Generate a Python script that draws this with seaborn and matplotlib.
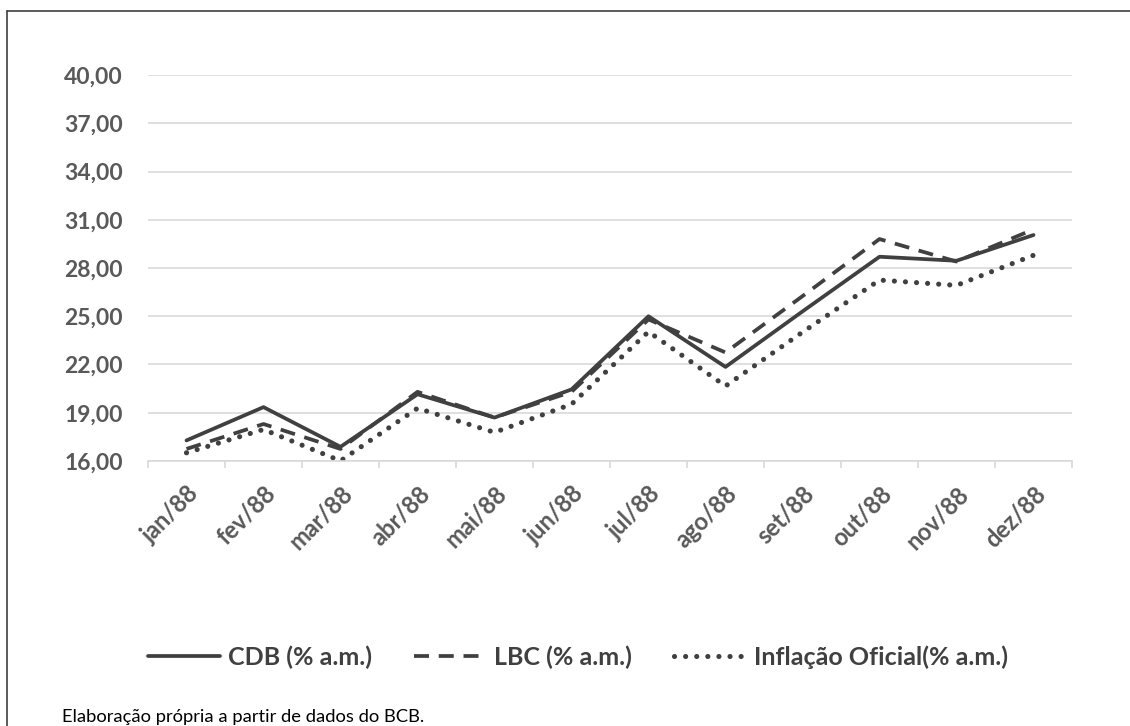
import matplotlib
matplotlib.use("Agg")
import matplotlib.pyplot as plt
from matplotlib.lines import Line2D
from matplotlib.ticker import FixedLocator
import seaborn as sns
import pandas as pd

# Monthly rates, 1988 (% a.m.)
meses = ["jan/88", "fev/88", "mar/88", "abr/88", "mai/88", "jun/88",
         "jul/88", "ago/88", "set/88", "out/88", "nov/88", "dez/88"]
cdb = [17.28, 19.35, 16.88, 20.15, 18.70, 20.45, 25.00, 21.85, 25.30, 28.70, 28.45, 30.05]
lbc = [16.75, 18.30, 16.75, 20.30, 18.70, 20.30, 24.80, 22.75, 26.25, 29.80, 28.40, 30.40]
inflacao = [16.51, 17.96, 16.01, 19.28, 17.78, 19.53, 24.04, 20.66, 24.01, 27.25, 26.92, 28.79]

series_nomes = ["CDB (% a.m.)", "LBC (% a.m.)", "Inflação Oficial(% a.m.)"]
y_ticks = [16, 19, 22, 25, 28, 31, 34, 37, 40]
fonte = "Elaboração própria a partir de dados do BCB."

sns.set_theme(style="white")
plt.rcParams["font.family"] = ["Lato", "DejaVu Sans"]

W, H = 1130, 726
fig = plt.figure(figsize=(W / 100, H / 100), dpi=100)
ax = fig.add_axes([148 / W, 1 - 461 / H, (1072 - 148) / W, (461 - 75) / H])

df = pd.DataFrame({"mes": meses, series_nomes[0]: cdb,
                   series_nomes[1]: lbc, series_nomes[2]: inflacao})

cor = "#404040"
sns.lineplot(data=df, x="mes", y=series_nomes[0], ax=ax, color=cor,
             linewidth=2.7, label=series_nomes[0], legend=False)
sns.lineplot(data=df, x="mes", y=series_nomes[1], ax=ax, color=cor,
             linewidth=2.7, linestyle=(0, (4.0, 2.6)), label=series_nomes[1],
             legend=False)
sns.lineplot(data=df, x="mes", y=series_nomes[2], ax=ax, color=cor,
             linewidth=3.7, linestyle=(0, (0.01, 2.15)), dash_capstyle="round",
             label=series_nomes[2], legend=False)

ax.set_xlim(-0.5, len(meses) - 0.5)
ax.set_ylim(16, 40)
ax.set_yticks(y_ticks)
ax.set_yticklabels([f"{v:.2f}".replace(".", ",") for v in y_ticks],
                   fontsize=16.5, fontweight="bold", color="#595959")
ax.tick_params(axis="y", length=0, pad=18)

ax.set_xticks(range(len(meses)))
ax.set_xticklabels(meses, rotation=45, ha="right", rotation_mode="anchor",
                   fontsize=17, fontweight="bold", color="#595959")
ax.tick_params(axis="x", which="major", length=0, pad=15)
ax.xaxis.set_minor_locator(FixedLocator([i - 0.5 for i in range(len(meses) + 1)]))
ax.tick_params(axis="x", which="minor", bottom=True, length=5, width=1.2,
               color="#d9d9d9")

ax.grid(axis="y", color="#d9d9d9", linewidth=1.2)
ax.set_axisbelow(True)
for s in ["left", "right", "top"]:
    ax.spines[s].set_visible(False)
ax.spines["bottom"].set_color("#d9d9d9")
ax.spines["bottom"].set_linewidth(1.2)
ax.set_xlabel("")
ax.set_ylabel("")

handles, labels = ax.get_legend_handles_labels()
leg = fig.legend(handles, labels, ncol=3, loc="center",
                 bbox_to_anchor=(578 / W, 1 - 657 / H), frameon=False,
                 handlelength=2.9, handletextpad=0.3, columnspacing=1.7,
                 prop={"size": 18, "weight": "bold"})
for t in leg.get_texts():
    t.set_color(cor)

fig.text(62 / W, 1 - 717 / H, fonte, fontsize=13.2, color="black",
         ha="left", va="center")

# outer frame (left and top edges)
fig.add_artist(Line2D([7 / W, 7 / W], [0, 1 - 11 / H], transform=fig.transFigure,
                      color="#404040", linewidth=1.2))
fig.add_artist(Line2D([7 / W, 1], [1 - 11 / H, 1 - 11 / H], transform=fig.transFigure,
                      color="#404040", linewidth=1.2))

fig.savefig("out.png", dpi=100, facecolor="white")
